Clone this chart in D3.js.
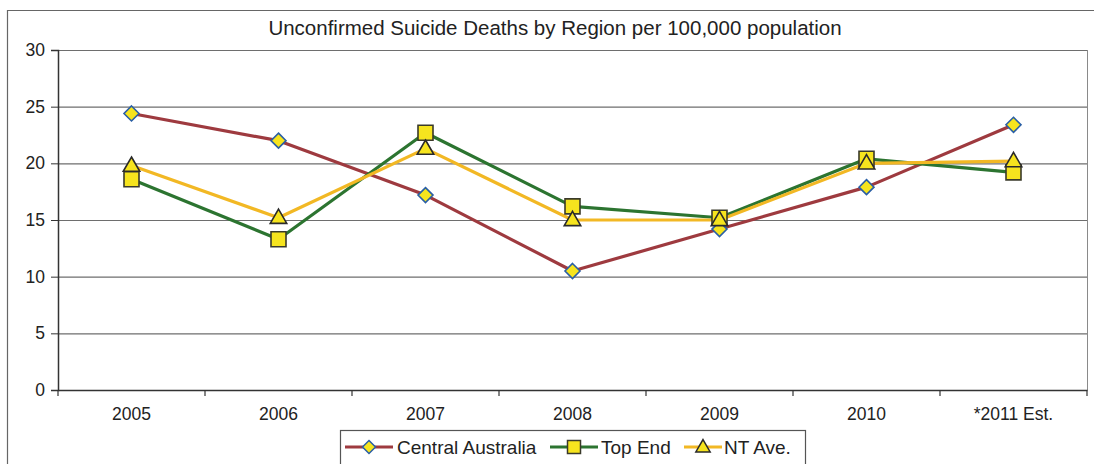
<!DOCTYPE html>
<html>
<head>
<meta charset="utf-8">
<script src="https://cdn.jsdelivr.net/npm/d3@7"></script>
<style>
  html, body { margin: 0; padding: 0; background: #fff; }
  svg { display: block; font-family: "Liberation Sans", Arial, sans-serif; }
</style>
</head>
<body>
<svg id="chart" width="1095" height="464"></svg>
<script>
// Unconfirmed suicide deaths per 100,000 population, by region
const years = ["2005", "2006", "2007", "2008", "2009", "2010", "*2011 Est."];
const centralAustralia = [24.4, 22.0, 17.2, 10.5, 14.2, 17.9, 23.4];
const topEnd = [18.6, 13.3, 22.7, 16.2, 15.2, 20.4, 19.2];
const ntAverage = [19.8, 15.2, 21.3, 15.0, 15.0, 20.0, 20.2];
const yTicks = [0, 5, 10, 15, 20, 25, 30];

const series = [
  { name: "Central Australia", values: centralAustralia, color: "#9e3a3f", marker: "diamond", stroke: "#2a5fa5" },
  { name: "Top End", values: topEnd, color: "#2c7430", marker: "square", stroke: "#3a3a2a" },
  { name: "NT Ave.", values: ntAverage, color: "#f2b824", marker: "triangle", stroke: "#2a2a2a" }
];

const svg = d3.select("#chart");
const plot = { left: 58, top: 50, right: 1087, bottom: 390 };
const fontFamily = "Liberation Sans, Arial, sans-serif";

// Outer chart frame
svg.append("path")
  .attr("d", `M7.5,464 V10.5 H1094`)
  .attr("fill", "none").attr("stroke", "#666").attr("stroke-width", 1.2);

// Title
svg.append("text")
  .attr("x", 555).attr("y", 35)
  .attr("text-anchor", "middle")
  .attr("font-size", 20.5).attr("fill", "#222")
  .text("Unconfirmed Suicide Deaths by Region per 100,000 population");

const x = d3.scaleBand().domain(years).range([plot.left, plot.right]);
const y = d3.scaleLinear().domain([0, 30]).range([plot.bottom, plot.top]);
const cx = d => x(d) + x.bandwidth() / 2;

// Horizontal gridlines
svg.append("g")
  .selectAll("line")
  .data(yTicks.filter(t => t > 0))
  .join("line")
  .attr("x1", plot.left).attr("x2", plot.right)
  .attr("y1", d => y(d) + 0.5).attr("y2", d => y(d) + 0.5)
  .attr("stroke", "#6e6e6e").attr("stroke-width", 1.2);

// Right edge of plot area
svg.append("line")
  .attr("x1", plot.right + 0.5).attr("x2", plot.right + 0.5)
  .attr("y1", plot.top).attr("y2", plot.bottom)
  .attr("stroke", "#8a8a8a").attr("stroke-width", 1);

// Y axis
const yAxis = svg.append("g")
  .attr("transform", `translate(${plot.left},0)`)
  .call(d3.axisLeft(y).tickValues(yTicks).tickSize(7).tickPadding(6));
yAxis.attr("font-size", null).attr("font-family", null);
yAxis.select(".domain").attr("stroke", "#333").attr("stroke-width", 1.5);
yAxis.selectAll(".tick line").attr("stroke", "#333");
yAxis.selectAll("text")
  .style("font-size", "17.5px").style("font-family", fontFamily).attr("fill", "#222");

// X axis with tick marks between categories
const xAxis = svg.append("g")
  .attr("transform", `translate(0,${plot.bottom})`)
  .call(d3.axisBottom(x).tickSize(0).tickPadding(18));
xAxis.attr("font-size", null).attr("font-family", null);
xAxis.select(".domain").attr("stroke", "#333").attr("stroke-width", 1.6);
xAxis.selectAll("text")
  .style("font-size", "17.5px").style("font-family", fontFamily).attr("fill", "#222");
svg.append("g")
  .selectAll("line")
  .data(d3.range(years.length + 1))
  .join("line")
  .attr("x1", i => plot.left + i * x.bandwidth())
  .attr("x2", i => plot.left + i * x.bandwidth())
  .attr("y1", plot.bottom).attr("y2", plot.bottom + 6)
  .attr("stroke", "#333").attr("stroke-width", 1.2);

// Marker shapes
function markerPath(type, s) {
  if (type === "diamond") return `M0,${-s} L${s},0 L0,${s} L${-s},0 Z`;
  if (type === "square") return `M${-s},${-s} H${s} V${s} H${-s} Z`;
  return `M0,${-s * 1.15} L${s * 1.1},${s * 0.75} L${-s * 1.1},${s * 0.75} Z`;
}
const markerSize = { diamond: 7.5, square: 7.5, triangle: 7.5 };

const line = d3.line().x(d => cx(d.year)).y(d => y(d.value));

series.forEach(s => {
  const pts = years.map((yr, i) => ({ year: yr, value: s.values[i] }));
  svg.append("path")
    .datum(pts)
    .attr("d", line)
    .attr("fill", "none")
    .attr("stroke", s.color)
    .attr("stroke-width", 3.2)
    .attr("stroke-linejoin", "round");
});

series.forEach(s => {
  const pts = years.map((yr, i) => ({ year: yr, value: s.values[i] }));
  svg.append("g")
    .selectAll("path")
    .data(pts)
    .join("path")
    .attr("transform", d => `translate(${cx(d.year)},${y(d.value)})`)
    .attr("d", markerPath(s.marker, markerSize[s.marker]))
    .attr("fill", "#f6e41e")
    .attr("stroke", s.stroke)
    .attr("stroke-width", 1.6);
});

// Legend
const legend = svg.append("g");
legend.append("rect")
  .attr("x", 340.5).attr("y", 430.5)
  .attr("width", 465).attr("height", 40)
  .attr("fill", "#fff").attr("stroke", "#555").attr("stroke-width", 1.2);

const legendItems = [
  { s: series[0], x1: 345, x2: 393, tx: 397 },
  { s: series[1], x1: 550, x2: 598, tx: 601 },
  { s: series[2], x1: 684, x2: 722, tx: 724 }
];
legendItems.forEach(it => {
  const ly = 447;
  legend.append("line")
    .attr("x1", it.x1).attr("x2", it.x2)
    .attr("y1", ly).attr("y2", ly)
    .attr("stroke", it.s.color).attr("stroke-width", 3);
  legend.append("path")
    .attr("transform", `translate(${(it.x1 + it.x2) / 2},${ly})`)
    .attr("d", markerPath(it.s.marker, 6.5))
    .attr("fill", "#f6e41e")
    .attr("stroke", it.s.stroke)
    .attr("stroke-width", 1.5);
  legend.append("text")
    .attr("x", it.tx).attr("y", ly + 6.5)
    .attr("font-size", 19).attr("fill", "#222")
    .text(it.s.name);
});
</script>
</body>
</html>
